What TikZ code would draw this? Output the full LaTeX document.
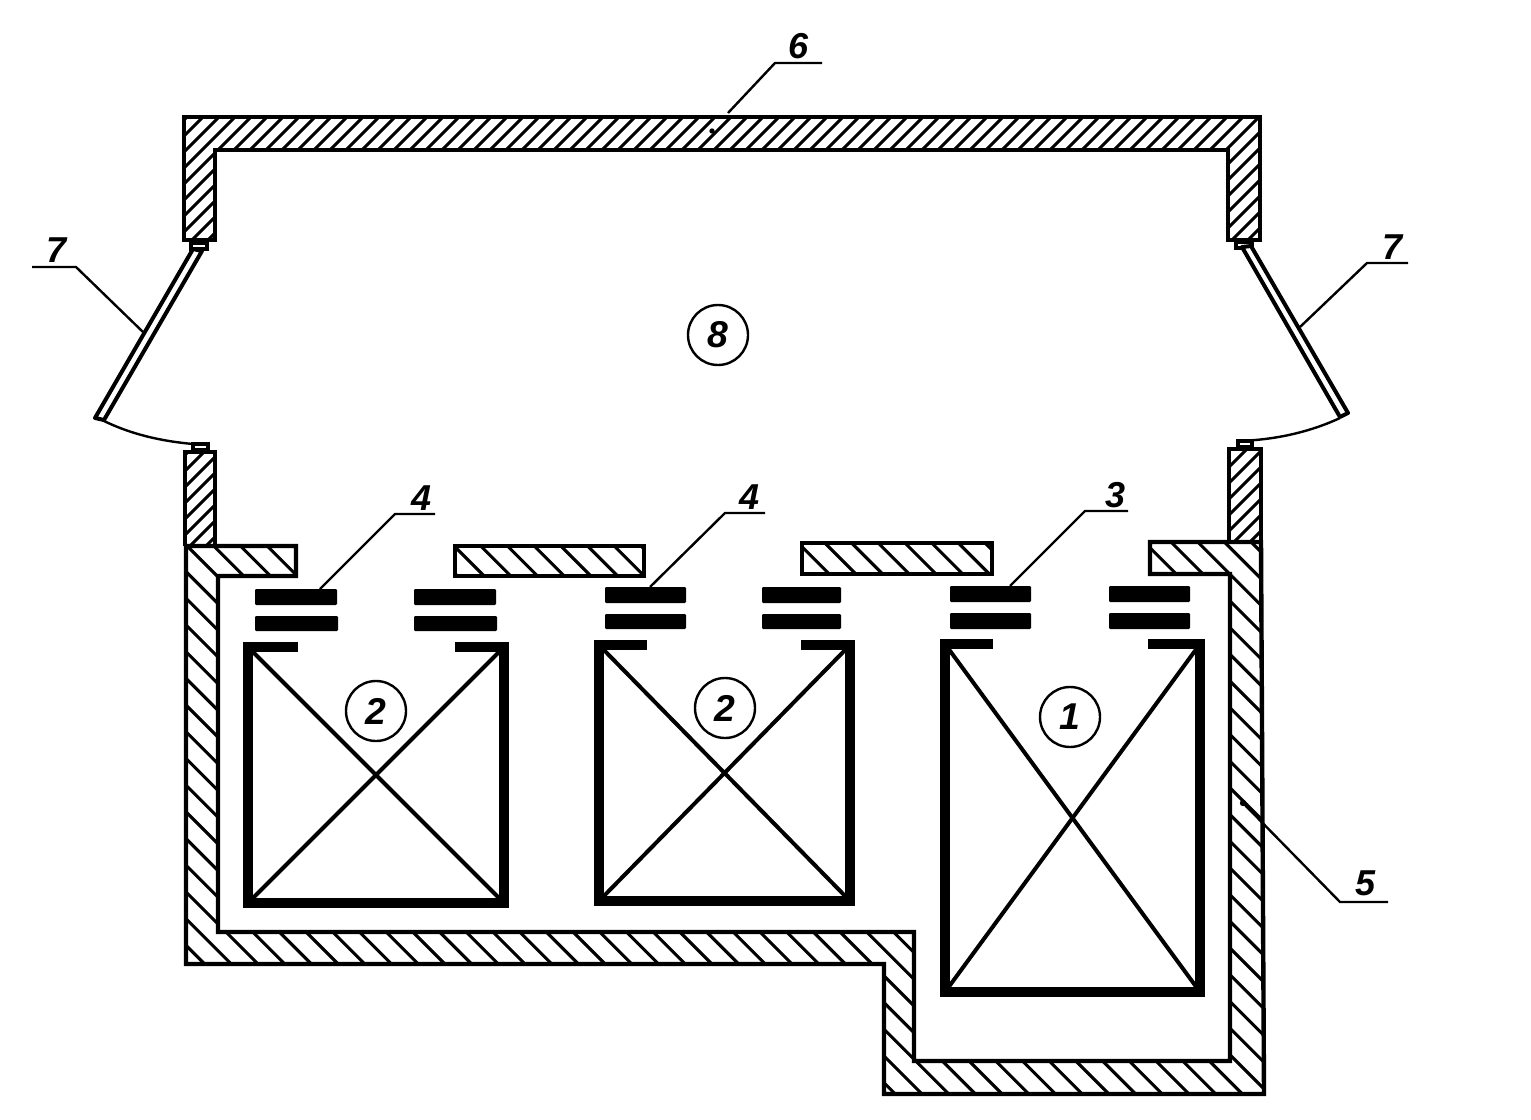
\documentclass[tikz,border=0pt]{standalone}
\usepackage{fontspec}
\setmainfont{Liberation Sans}
\tikzset{
  wall/.style={draw=black,line width=3.3pt,line join=miter},
  hatchline/.style={draw=black,line width=2.3pt},
  coil/.style={draw=black,line width=7pt,line cap=butt,line join=miter},
  cross/.style={draw=black,line width=3pt},
  plate/.style={fill=black,draw=none,rounded corners=0.8pt},
  leader/.style={draw=black,line width=1.8pt},
  num/.style={font=\bfseries\itshape\fontsize{27}{27}\selectfont,inner sep=0pt},
  ring/.style={circle,draw=black,line width=1.8pt,minimum size=45pt,inner sep=0pt,font=\bfseries\itshape\fontsize{28}{28}\selectfont},
  leaf/.style={draw=black,line width=3pt,line join=round,fill=white},
  tab/.style={draw=black,line width=2.4pt,fill=white},
  arcline/.style={draw=black,line width=1.8pt}
}
\newcommand{\fwd}{\foreach \c in {0,16,...,1920}{\draw[hatchline] (\c,0) -- (\c-1200,1200);}}
\newcommand{\bwd}{\foreach \i in {-40,...,40}{\draw[hatchline] ({-172+\i*26.7},0) -- ({1028+\i*26.7},1200);}}
\begin{document}
\begin{tikzpicture}[x=0.75pt,y=-0.75pt]
\useasboundingbox (0,0) rectangle (1531,1120);

% ---- top cap (6)
\begin{scope}
  \clip (184,117)--(1260,117)--(1260,240)--(1228,240)--(1228,150)--(215,150)--(215,240)--(184,240)--cycle;
  \fwd
\end{scope}
\draw[wall] (184,117)--(1260,117)--(1260,240)--(1228,240)--(1228,150)--(215,150)--(215,240)--(184,240)--cycle;

% ---- lower stubs of the upper wall
\begin{scope}
  \clip (185,452)--(215,452)--(215,546)--(185,546)--cycle;
  \fwd
\end{scope}
\draw[wall] (185,546)--(185,452)--(215,452)--(215,546);
\begin{scope}
  \clip (1229,449)--(1261,449)--(1261,542)--(1229,542)--cycle;
  \fwd
\end{scope}
\draw[wall] (1229,542)--(1229,449)--(1261,449)--(1261,542);

% ---- housing (5) with the shelves
\begin{scope}
  \clip (186,546)--(296,546)--(296,576)--(218,576)--(218,932)--(914,932)--(914,1061)--(1230,1061)--(1230,574)--(1150,574)--(1150,542)--(1261,542)--(1264,1094)--(884,1094)--(884,964)--(186,964)--cycle;
  \bwd
\end{scope}
\draw[wall] (186,546)--(296,546)--(296,576)--(218,576)--(218,932)--(914,932)--(914,1061)--(1230,1061)--(1230,574)--(1150,574)--(1150,542)--(1261,542)--(1264,1094)--(884,1094)--(884,964)--(186,964)--cycle;

\begin{scope}
  \clip (455,546)--(644,546)--(644,576)--(455,576)--cycle;
  \bwd
\end{scope}
\draw[wall] (455,546)--(644,546)--(644,576)--(455,576)--cycle;
\begin{scope}
  \clip (802,543)--(992,543)--(992,574)--(802,574)--cycle;
  \bwd
\end{scope}
\draw[wall] (802,543)--(992,543)--(992,574)--(802,574)--cycle;

% ---- opening leaves (7)
\draw[tab] (191,243) rectangle (207,249);
\draw[tab] (193,444) rectangle (208,450);
\draw[tab] (1236,242) rectangle (1252,248);
\draw[tab] (1238,441) rectangle (1252,447);
\draw[leaf] (193,249)--(202,251)--(104,420)--(95,418)--cycle;
\draw[leaf] (1242,247)--(1251,246)--(1348,413)--(1340,417)--cycle;
\coordinate (leafLa) at (102,420);
\coordinate (leafLb) at (193,444);
\coordinate (leafRa) at (1340,418);
\coordinate (leafRb) at (1238,441);
\draw[arcline] (leafLa) .. controls (130,434) and (160,441) .. (leafLb);
\draw[arcline] (leafRa) .. controls (1310,432) and (1275,440) .. (leafRb);

% ---- contact plates
\fill[plate] (255,589) rectangle (337,605);
\fill[plate] (255,616) rectangle (338,631);
\fill[plate] (414,589) rectangle (496,605);
\fill[plate] (414,616) rectangle (497,631);
\fill[plate] (605,587) rectangle (686,603);
\fill[plate] (605,614) rectangle (686,629);
\fill[plate] (762,587) rectangle (841,603);
\fill[plate] (762,614) rectangle (841,629);
\fill[plate] (950,586) rectangle (1031,602);
\fill[plate] (950,613) rectangle (1031,629);
\fill[plate] (1109,586) rectangle (1190,602);
\fill[plate] (1109,613) rectangle (1190,629);

% ---- coils
\draw[coil] (298,647)--(248,647)--(248,903)--(504,903)--(504,647)--(455,647);
\draw[cross] (248,647)--(504,903);
\draw[cross] (504,647)--(248,903);
\draw[coil] (647,645)--(599,645)--(599,901)--(850,901)--(850,645)--(801,645);
\draw[cross] (599,645)--(850,901);
\draw[cross] (850,645)--(599,901);
\draw[coil] (993,644)--(945,644)--(945,992)--(1200,992)--(1200,644)--(1148,644);
\draw[cross] (945,644)--(1200,992);
\draw[cross] (1200,644)--(945,992);

% ---- circled labels
\node[ring] (c8) at (718,335) {8};
\node[ring,fill=white] (c2a) at (376,711) {2};
\node[ring,fill=white] (c2b) at (725,708) {2};
\node[ring,fill=white] (c1) at (1070,717) {1};

% ---- leaders and numbers
\node[num] (n6) at (798,46) {6};
\coordinate (k6a) at (728,113); \coordinate (k6b) at (775,63); \coordinate (k6c) at (822,63);
\draw[leader] (k6a)--(k6b)--(k6c);
\fill (712,131) circle (2pt);

\node[num] (n7l) at (57,250) {7};
\coordinate (k7a) at (143,332); \coordinate (k7b) at (76,267); \coordinate (k7c) at (32,267);
\draw[leader] (k7a)--(k7b)--(k7c);

\node[num] (n7r) at (1392,247) {7};
\coordinate (k7d) at (1300,327); \coordinate (k7e) at (1367,263); \coordinate (k7f) at (1408,263);
\draw[leader] (k7d)--(k7e)--(k7f);

\node[num] (n4a) at (422,498) {4};
\coordinate (k4a) at (320,589); \coordinate (k4b) at (395,514); \coordinate (k4c) at (435,514);
\draw[leader] (k4a)--(k4b)--(k4c);

\node[num] (n4b) at (750,497) {4};
\coordinate (k4d) at (650,587); \coordinate (k4e) at (725,513); \coordinate (k4f) at (765,513);
\draw[leader] (k4d)--(k4e)--(k4f);

\node[num] (n3) at (1115,495) {3};
\coordinate (k3a) at (1010,586); \coordinate (k3b) at (1085,511); \coordinate (k3c) at (1128,511);
\draw[leader] (k3a)--(k3b)--(k3c);

\node[num] (n5) at (1365,883) {5};
\coordinate (k5a) at (1243,803); \coordinate (k5b) at (1340,902); \coordinate (k5c) at (1388,902);
\draw[leader] (k5a)--(k5b)--(k5c);
\fill (k5a) circle (2.4pt);
\end{tikzpicture}
\end{document}
